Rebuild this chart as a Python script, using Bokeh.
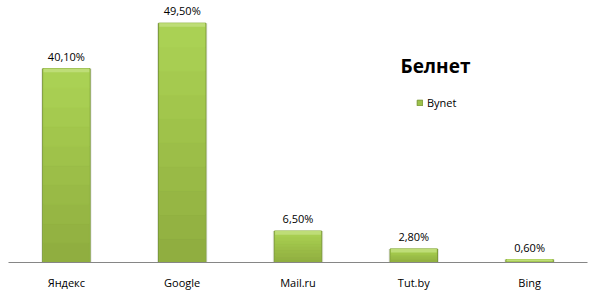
from bokeh.plotting import figure
from bokeh.models import ColumnDataSource, FactorRange, Range1d, Label, Legend, LegendItem
from bokeh.core.properties import value
from bokeh.embed import file_html
from bokeh.resources import INLINE

categories = ["Яндекс", "Google", "Mail.ru", "Tut.by", "Bing"]
shares = [40.1, 49.5, 6.5, 2.8, 0.6]
share_labels = ["40,10%", "49,50%", "6,50%", "2,80%", "0,60%"]
series_name = "Bynet"
chart_title = "Белнет"

FONT = "Open Sans"

p = figure(width=600, height=302, x_range=FactorRange(*categories, range_padding=0),
           y_range=Range1d(0, 54.2), output_backend="svg", toolbar_location=None,
           min_border_left=8, min_border_right=13, min_border_top=0, min_border_bottom=40)
p.outline_line_color = None
p.xgrid.visible = False
p.ygrid.visible = False
p.yaxis.visible = False

src = ColumnDataSource(dict(cat=categories, val=shares, lab=share_labels))

# soft shadow
p.vbar(x="cat", top="val", width=0.435, source=src, fill_color="#d0d0d0",
       line_color=None, fill_alpha=0.5)

# main bar (legend renderer)
bars = p.vbar(x="cat", top="val", width=0.41, source=src, fill_color="#9cc24a",
              line_color="#7a9836", line_width=1)

# vertical shading bands (darker at bottom, lighter at top)
band_colors = ["#90ae40", "#93b242", "#96b644", "#99ba46", "#9cbe48",
               "#9fc24a", "#a2c64c", "#a5ca4f", "#a8ce52", "#aad154"]
n = len(band_colors)
for i, c in enumerate(band_colors):
    b = ColumnDataSource(dict(cat=categories,
                              bot=[v * i / n for v in shares],
                              top=[v * (i + 1) / n for v in shares]))
    p.vbar(x="cat", top="top", bottom="bot", width=0.395, source=b,
           fill_color=c, line_color=c, line_width=0.5)

# top bevel highlight
bev = ColumnDataSource(dict(cat=categories, top=shares,
                            bot=[v - min(v * 0.6, 0.75) for v in shares]))
p.vbar(x="cat", top="top", bottom="bot", width=0.395, source=bev,
       fill_color="#bedd77", line_color=None)

p.text(x="cat", y="val", text="lab", source=src, text_align="center",
       text_baseline="bottom", y_offset=-5, text_font=value(FONT),
       text_font_size="11px", text_color="#000000")

ax = p.xaxis[0]
ax.axis_line_color = "#868686"
ax.axis_line_width = 1.2
ax.major_tick_line_color = None
ax.minor_tick_line_color = None
ax.major_tick_out = 0
ax.major_label_standoff = 12
ax.major_label_text_font = FONT
ax.major_label_text_font_size = "11px"
ax.major_label_text_color = "#000000"

p.add_layout(Label(x=392, y=197, x_units="screen", y_units="screen", text=chart_title,
                   text_font=FONT, text_font_size="19px", text_font_style="bold",
                   text_baseline="middle", text_color="#000000"))

legend = Legend(items=[LegendItem(label=series_name, renderers=[bars])],
                location=(408, 152), orientation="vertical",
                glyph_width=7, glyph_height=7, label_height=8,
                label_standoff=4, padding=0, margin=0, spacing=0,
                border_line_color=None, background_fill_alpha=0,
                label_text_font=FONT, label_text_font_size="11px",
                label_text_color="#000000", label_text_baseline="middle")
p.add_layout(legend, "center")

open("out.html", "w").write(file_html(p, INLINE))
